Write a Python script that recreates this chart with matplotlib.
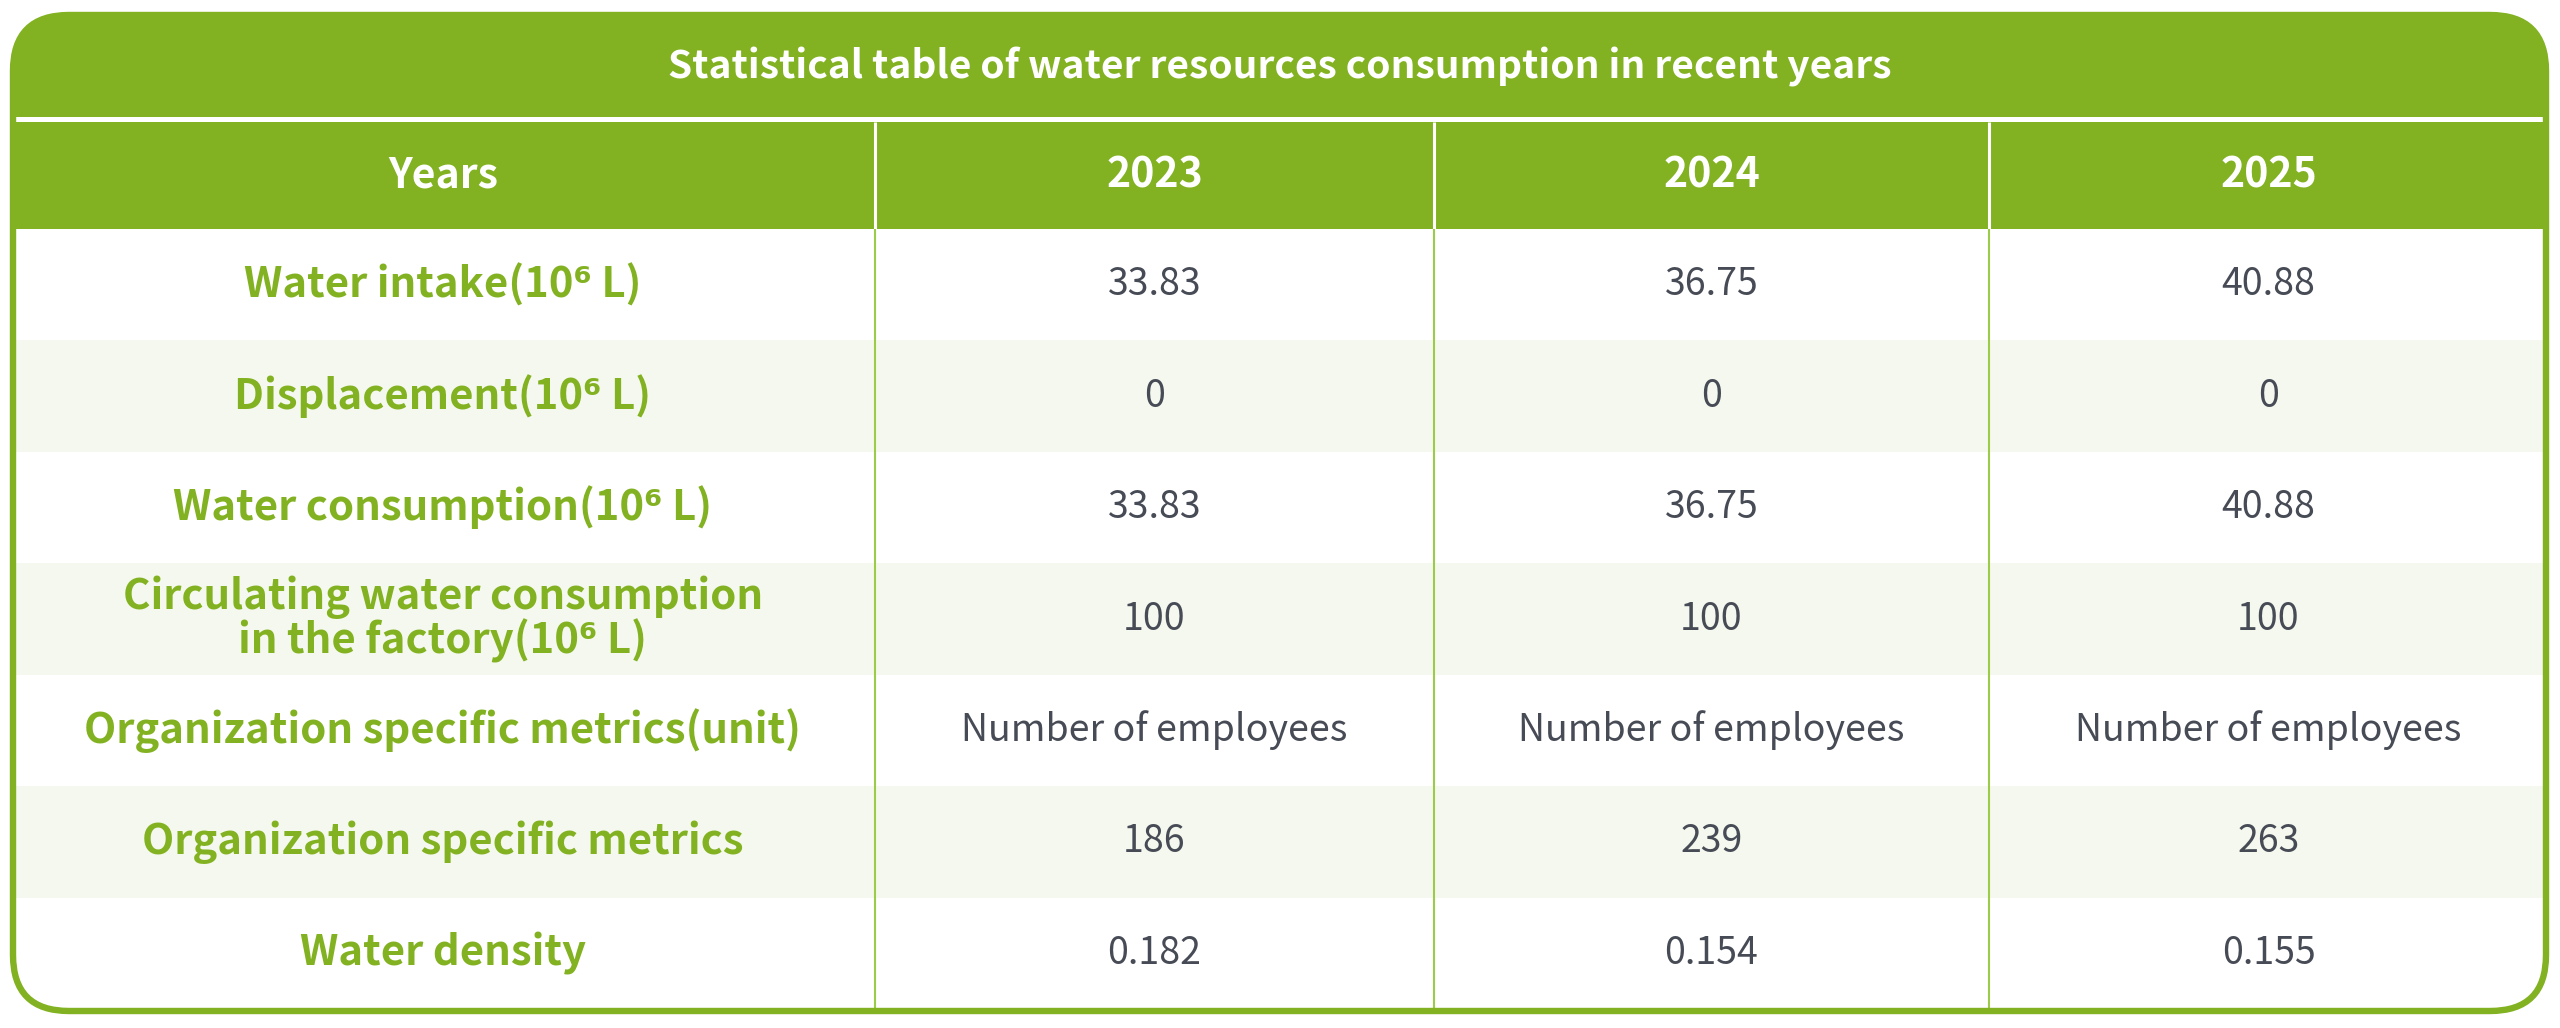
import matplotlib
matplotlib.use("Agg")
import matplotlib.pyplot as plt
from matplotlib.patches import FancyBboxPatch, Rectangle
from matplotlib import font_manager

plt.rcParams['font.family'] = ['Noto Sans CJK SC', 'DejaVu Sans']

title = "Statistical table of water resources consumption in recent years"
header_label = "Years"
years = ["2023", "2024", "2025"]
row_labels = [
    "Water intake(10\u2076 L)",
    "Displacement(10\u2076 L)",
    "Water consumption(10\u2076 L)",
    "Circulating water consumption\nin the factory(10\u2076 L)",
    "Organization specific metrics(unit)",
    "Organization specific metrics",
    "Water density",
]
values_2023 = ["33.83", "0", "33.83", "100", "Number of employees", "186", "0.182"]
values_2024 = ["36.75", "0", "36.75", "100", "Number of employees", "239", "0.154"]
values_2025 = ["40.88", "0", "40.88", "100", "Number of employees", "263", "0.155"]

GREEN = "#82B221"
LIGHT = "#F5F8EE"
GRID = "#9CCB4A"
VALC = "#474B55"

W, H = 2560, 1028
fig = plt.figure(figsize=(W / 100, H / 100), dpi=100)
ax = fig.add_axes([0, 0, 1, 1])
ax.set_xlim(0, W)
ax.set_ylim(H, 0)
ax.axis("off")

L, R, T, B = 11, 2548, 13, 1013
rad = 58
title_bot = 117
head_top, head_bot = 122, 229
body_bot = 1009
col_edges = [L, 875, 1434, 1989, R]
nrows = len(row_labels)
rh = (body_bot - head_bot) / nrows

clip = FancyBboxPatch((L, T), R - L, B - T,
                      boxstyle=f"round,pad=0,rounding_size={rad}",
                      facecolor="white", edgecolor="none", zorder=0)
ax.add_patch(clip)

def rect(x0, y0, x1, y1, color, z=1):
    p = Rectangle((x0, y0), x1 - x0, y1 - y0, facecolor=color,
                  edgecolor="none", zorder=z)
    ax.add_patch(p)
    p.set_clip_path(clip)
    return p

rect(L - 5, T - 5, R + 5, title_bot, GREEN)
rect(L - 5, head_top, R + 5, head_bot, GREEN)
for i in range(nrows):
    y0 = head_bot + i * rh
    rect(L - 5, y0, R + 5, y0 + rh, "white" if i % 2 == 0 else LIGHT)

for x in col_edges[1:-1]:
    ax.plot([x, x], [head_top, head_bot], color="white", lw=2.2,
            solid_capstyle="butt", zorder=2)
    ax.plot([x, x], [head_bot, body_bot], color=GRID, lw=1.5,
            solid_capstyle="butt", zorder=2)

border = FancyBboxPatch((L + 2, T + 2), R - L - 4, B - T - 4,
                        boxstyle=f"round,pad=0,rounding_size={rad - 2}",
                        facecolor="none", edgecolor=GREEN, lw=4.6, zorder=5)
ax.add_patch(border)

cx = (L + R) / 2
ax.text(cx, (T + title_bot) / 2 + 2, title, color="white", fontsize=28,
        fontweight="bold", ha="center", va="center", zorder=6)

centers = [(col_edges[i] + col_edges[i + 1]) / 2 for i in range(4)]
hy = (head_top + head_bot) / 2
for c, t in zip(centers, [header_label] + years):
    ax.text(c, hy, t, color="white", fontsize=29.5, fontweight="bold",
            ha="center", va="center", zorder=6)

cols = [values_2023, values_2024, values_2025]
for i in range(nrows):
    yc = head_bot + (i + 0.5) * rh
    ax.text(centers[0], yc, row_labels[i], color=GREEN, fontsize=30.2,
            fontweight="bold", ha="center", va="center", linespacing=1.0,
            multialignment="center", zorder=6)
    for j, vals in enumerate(cols):
        ax.text(centers[j + 1], yc, vals[i], color=VALC, fontsize=27,
                fontweight="light", ha="center", va="center", zorder=6)

fig.savefig("out.png", dpi=100, facecolor="white")
